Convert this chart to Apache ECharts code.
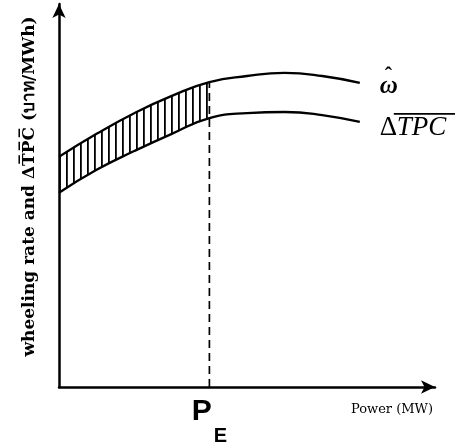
<!DOCTYPE html>
<html>
<head>
<meta charset="utf-8">
<script src="https://cdn.jsdelivr.net/npm/echarts@6/dist/echarts.min.js"></script>
<style>
  html, body { margin: 0; padding: 0; background: #fff; }
  #chart { width: 455px; height: 448px; }
</style>
</head>
<body>
<div id="chart"></div>
<script>
// power axis positions (0..100 scale) and curve values
const powerX = [0, 10, 20, 30, 40, 50, 60, 70, 80];
const omegaHat = [60.1, 66.1, 71.5, 76.0, 79.6, 81.2, 82.0, 81.2, 79.4];
const deltaTPC = [50.7, 56.7, 61.6, 66.1, 70.2, 71.5, 71.8, 71.0, 69.2];
const pE = 40;

// hatch pattern (vertical strokes)
const hatch = document.createElement('canvas');
hatch.width = 7;
hatch.height = 8;
const hctx = hatch.getContext('2d');
hctx.fillStyle = '#000';
hctx.fillRect(3, 0, 1.8, 8);

const upper = powerX.map((x, i) => [x, omegaHat[i]]);
const lower = powerX.map((x, i) => [x, deltaTPC[i]]);
// shaded band only up to P_E
const peIdx = powerX.indexOf(pE);
const bandTop = upper.slice(0, peIdx + 1);
const bandBottom = lower.slice(0, peIdx + 1);

const chart = echarts.init(document.getElementById('chart'), null, { renderer: 'canvas' });

const axisCommon = {
  type: 'value',
  min: 0,
  max: 100,
  z: 5,
  splitLine: { show: false },
  axisLine: {
    lineStyle: { color: '#000', width: 2.5 },
    symbol: ['none', 'arrow'],
    symbolSize: [10, 14]
  },
  axisTick: { show: false }
};

chart.setOption({
  animation: false,
  backgroundColor: '#fff',
  grid: { left: 59, right: 20, top: 4, bottom: 61, containLabel: false },
  xAxis: Object.assign({}, axisCommon, {
    axisLabel: {
      customValues: [pE],
      formatter: () => '{p|P}{e|E}',
      margin: 10,
      rich: {
        p: { fontFamily: 'Liberation Sans', fontWeight: 'bold', fontSize: 30, color: '#000', verticalAlign: 'top' },
        e: { fontFamily: 'Liberation Sans', fontWeight: 'bold', fontSize: 20, color: '#000', verticalAlign: 'top', padding: [29, 0, 0, 2] }
      }
    },
    name: 'Power (MW)',
    nameLocation: 'end',
    nameGap: -2,
    nameTextStyle: {
      fontFamily: 'DejaVu Serif',
      fontSize: 13,
      color: '#000',
      align: 'right',
      verticalAlign: 'top',
      padding: [16, 0, 0, 0]
    }
  }),
  yAxis: Object.assign({}, axisCommon, {
    axisLabel: { show: false },
    name: 'wheeling rate and \u0394T\u0305P\u0305C\u0305 (บาท/MWh)',
    nameLocation: 'middle',
    nameRotate: 90,
    nameGap: 21,
    nameTextStyle: {
      fontFamily: 'DejaVu Serif',
      fontWeight: 'bold',
      fontSize: 17,
      color: '#000',
      padding: [0, 0, 0, 18]
    }
  }),
  series: [
    {
      type: 'line',
      data: bandTop,
      smooth: true,
      symbol: 'none',
      lineStyle: { width: 0 },
      areaStyle: { color: { image: hatch, repeat: 'repeat' }, opacity: 1 },
      silent: true,
      z: 1
    },
    {
      type: 'line',
      data: bandBottom,
      smooth: true,
      symbol: 'none',
      lineStyle: { width: 0 },
      areaStyle: { color: '#fff', opacity: 1 },
      silent: true,
      z: 2
    },
    {
      name: 'omega',
      type: 'line',
      data: upper,
      smooth: true,
      symbol: 'none',
      lineStyle: { color: '#000', width: 2.3 },
      z: 3
    },
    {
      name: 'dtpc',
      type: 'line',
      data: lower,
      smooth: true,
      symbol: 'none',
      lineStyle: { color: '#000', width: 2.3 },
      z: 3
    },
    {
      type: 'line',
      data: [[pE, 0], [pE, omegaHat[peIdx]]],
      symbol: 'none',
      lineStyle: { color: '#000', width: 1.7, type: [8, 5] },
      z: 4
    }
  ]
});

// curve names placed at the line ends
const endU = chart.convertToPixel({ gridIndex: 0 }, upper[upper.length - 1]);
const endL = chart.convertToPixel({ gridIndex: 0 }, lower[lower.length - 1]);
const serif = 'Liberation Serif';

chart.setOption({
  graphic: [
    {
      type: 'group',
      x: endU[0] + 20,
      y: endU[1],
      children: [
        { type: 'text', style: { text: '\u03C9', font: 'italic bold 25px ' + serif, fill: '#000', x: 0, y: 4, verticalAlign: 'middle' } },
        { type: 'text', style: { text: '\u02C6', font: 'bold 22px ' + serif, fill: '#000', x: 5, y: -7, verticalAlign: 'middle' } }
      ]
    },
    {
      type: 'group',
      x: endL[0] + 20,
      y: endL[1] + 6,
      children: [
        { type: 'text', style: { text: '\u0394', font: '27px ' + serif, fill: '#000', x: 0, y: 0, verticalAlign: 'middle' } },
        { type: 'text', style: { text: 'TPC', font: 'italic 27px ' + serif, fill: '#000', x: 17, y: 0, verticalAlign: 'middle' } },
        { type: 'line', shape: { x1: 14, y1: -14, x2: 76, y2: -14 }, style: { stroke: '#000', lineWidth: 1.8 } }
      ]
    }
  ]
});
</script>
</body>
</html>
